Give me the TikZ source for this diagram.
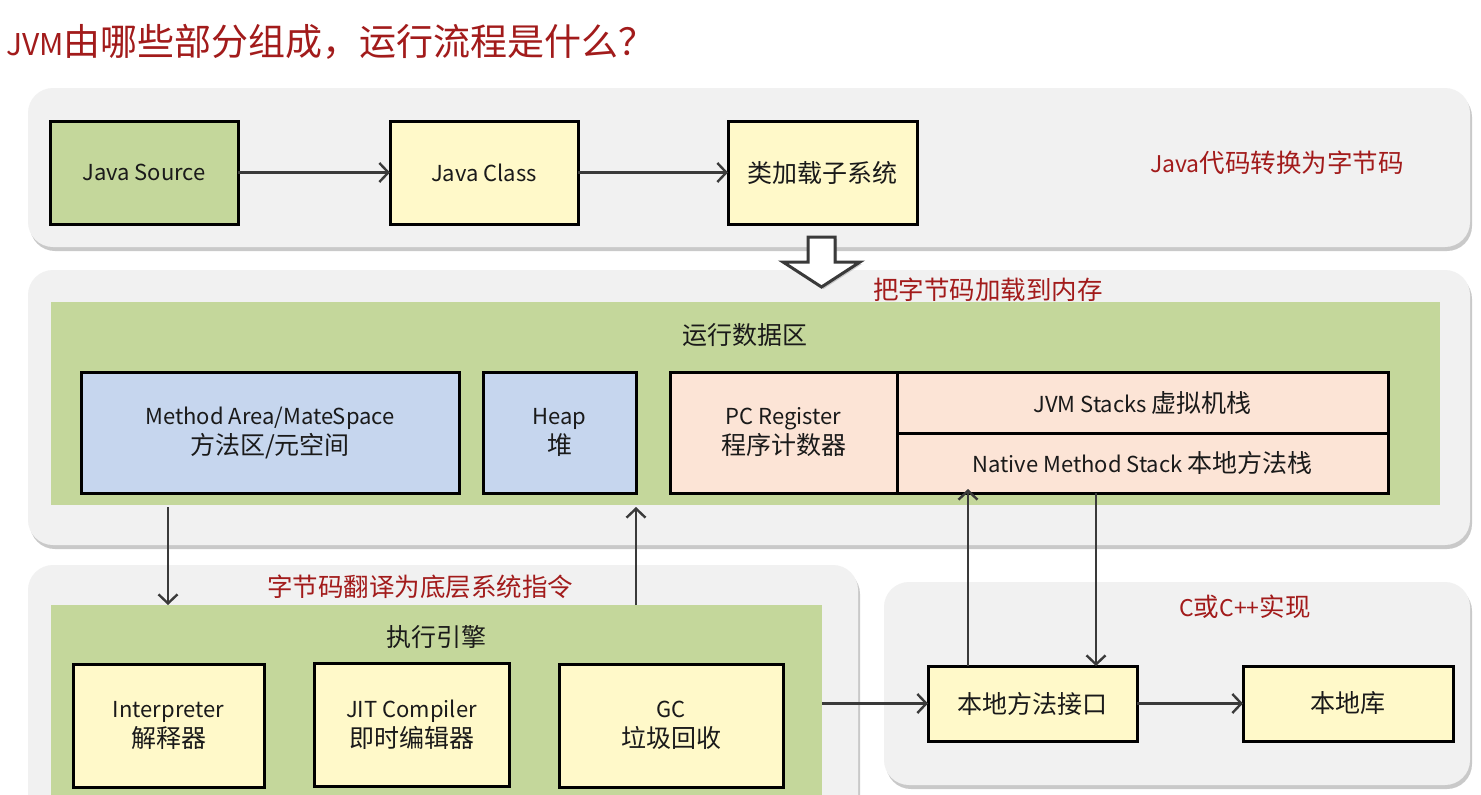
\documentclass[tikz,border=0pt]{standalone}
\usepackage{fontspec}
\setmainfont{Noto Sans CJK SC}
\usetikzlibrary{arrows.meta,shadows}
\definecolor{panelgray}{HTML}{F1F1F1}
\definecolor{areagreen}{HTML}{C4D79B}
\definecolor{boxyellow}{HTML}{FFF9C9}
\definecolor{boxblue}{HTML}{C6D6EE}
\definecolor{boxpeach}{HTML}{FCE4D6}
\definecolor{titlered}{HTML}{A21B1B}
\definecolor{arrgray}{HTML}{3A3A3A}
\definecolor{txt}{HTML}{1A1A1A}
\newcommand\zhs[1]{{\fontsize{25}{30}\selectfont #1}}
\newcommand\zhr[1]{{\fontsize{25.5}{30}\selectfont #1}}
\tikzset{
  panel/.style={fill=panelgray, rounded corners=25pt, drop shadow={shadow xshift=2pt, shadow yshift=-4pt, opacity=0.35, fill=black!60}},
  area/.style={fill=areagreen, draw=none, inner sep=0pt, outer sep=0pt},
  bx/.style={draw=black, line width=3pt, inner sep=2pt, outer sep=0pt, align=center, text=txt, font=\fontsize{22}{30}\selectfont},
  ybox/.style={bx, fill=boxyellow},
  gbox/.style={bx, fill=areagreen},
  bbox/.style={bx, fill=boxblue},
  pbox/.style={bx, fill=boxpeach},
  redlbl/.style={text=titlered, font=\fontsize{23}{30}\selectfont, inner sep=0pt},
  arealbl/.style={text=txt, font=\fontsize{25}{30}\selectfont, inner sep=0pt},
  arr/.style={draw=arrgray, line width=2.4pt, -{Straight Barb[length=9pt,width=19pt,line width=2.4pt]}},
}
\begin{document}
\begin{tikzpicture}[x=1pt,y=-1pt]
\useasboundingbox (0,0) rectangle (1481,795);
\clip (0,0) rectangle (1481,795);
\fill[white] (0,0) rectangle (1481,795);

% title
\node[anchor=west, text=titlered, font=\fontsize{30}{38}\selectfont, inner sep=0pt] (title) at (6,42) {JVM{\fontsize{37}{40}\selectfont 由哪些部分组成，运行流程是什么？}};

% panels
\path[panel] (28,88) rectangle (1470,247);
\path[panel] (28,270) rectangle (1470,545);
\path[panel] (28,565) rectangle (858,850);
\path[panel] (884,582) rectangle (1470,785);

% row 1
\node[gbox, minimum width=188pt, minimum height=103pt] (js) at (144,172.5) {Java Source};
\node[ybox, minimum width=188pt, minimum height=103pt] (jc) at (484,172.5) {Java Class};
\node[ybox, minimum width=189pt, minimum height=103pt] (cl) at (822.5,172.5) {\zhs{类加载子系统}};
\node[redlbl] (l1) at (1277,163) {Java\zhr{代码转换为字节码}};
\draw[arr] (js) -- (jc);
\draw[arr] (jc) -- (cl);

% hollow arrow
\draw[draw=arrgray, line width=3pt, fill=white, line join=miter, drop shadow={shadow xshift=2pt, shadow yshift=-2pt, opacity=0.3, fill=black!60}]
  (808,237) -- (835,237) -- (835,262) -- (860,262) -- (821.5,287) -- (783,262) -- (808,262) -- cycle;
\node[redlbl] (l2) at (988,290) {\zhr{把字节码加载到内存}};

% runtime data area
\node[area, minimum width=1389pt, minimum height=203pt] (g1) at (745.5,403.5) {};
\node[arealbl] (g1lbl) at (745,335) {运行数据区};
\node[bbox, minimum width=378pt, minimum height=121pt] (ma) at (270,432.5) {Method Area/MateSpace\\\zhs{方法区/元空间}};
\node[bbox, minimum width=153pt, minimum height=121pt] (heap) at (559.5,432.5) {Heap\\\zhs{堆}};
\node[pbox, minimum width=227pt, minimum height=121pt] (pc) at (783.5,432.5) {PC Register\\\zhs{程序计数器}};
\node[pbox, minimum width=491pt, minimum height=61pt] (jvms) at (1142.5,402.5) {JVM Stacks \zhs{虚拟机栈}};
\node[pbox, minimum width=491pt, minimum height=60pt] (ns) at (1142.5,463) {Native Method Stack \zhs{本地方法栈}};

% execution engine
\node[redlbl] (l3) at (420,587) {\zhr{字节码翻译为底层系统指令}};
\node[area, minimum width=771pt, minimum height=245pt] (g2) at (436.5,727.5) {};
\node[arealbl] (g2lbl) at (436,637) {执行引擎};
\node[ybox, minimum width=191pt, minimum height=123pt] (interp) at (168.5,725.5) {Interpreter\\\zhs{解释器}};
\node[ybox, minimum width=195pt, minimum height=123pt] (jit) at (411.5,724.5) {JIT Compiler\\\zhs{即时编辑器}};
\node[ybox, minimum width=224pt, minimum height=123pt] (gc) at (671,725.5) {GC\\\zhs{垃圾回收}};

% native
\node[redlbl] (l4) at (1245,607) {C\zhr{或}C++\zhr{实现}};
\node[ybox, minimum width=209pt, minimum height=75pt] (nmi) at (1032.5,703.5) {\zhs{本地方法接口}};
\node[ybox, minimum width=210pt, minimum height=75pt] (lib) at (1348,703.5) {\zhs{本地库}};

% connectors
\coordinate (xa) at (168,0);
\coordinate (xb) at (636,0);
\coordinate (xc) at (968,0);
\coordinate (xd) at (1096,0);
\draw[arr] ([yshift=-2pt]g1.south -| xa) -- (g2.north -| xa);
\draw[arr] (g2.north -| xb) -- ([yshift=-2pt]g1.south -| xb);
\draw[arr] (nmi.north -| xc) -- ([yshift=4pt]ns.south -| xc);
\draw[arr] (ns.south -| xd) -- (nmi.north -| xd);
\draw[arr] (g2.east |- nmi.west) -- (nmi.west);
\draw[arr] (nmi) -- (lib);
\end{tikzpicture}
\end{document}
